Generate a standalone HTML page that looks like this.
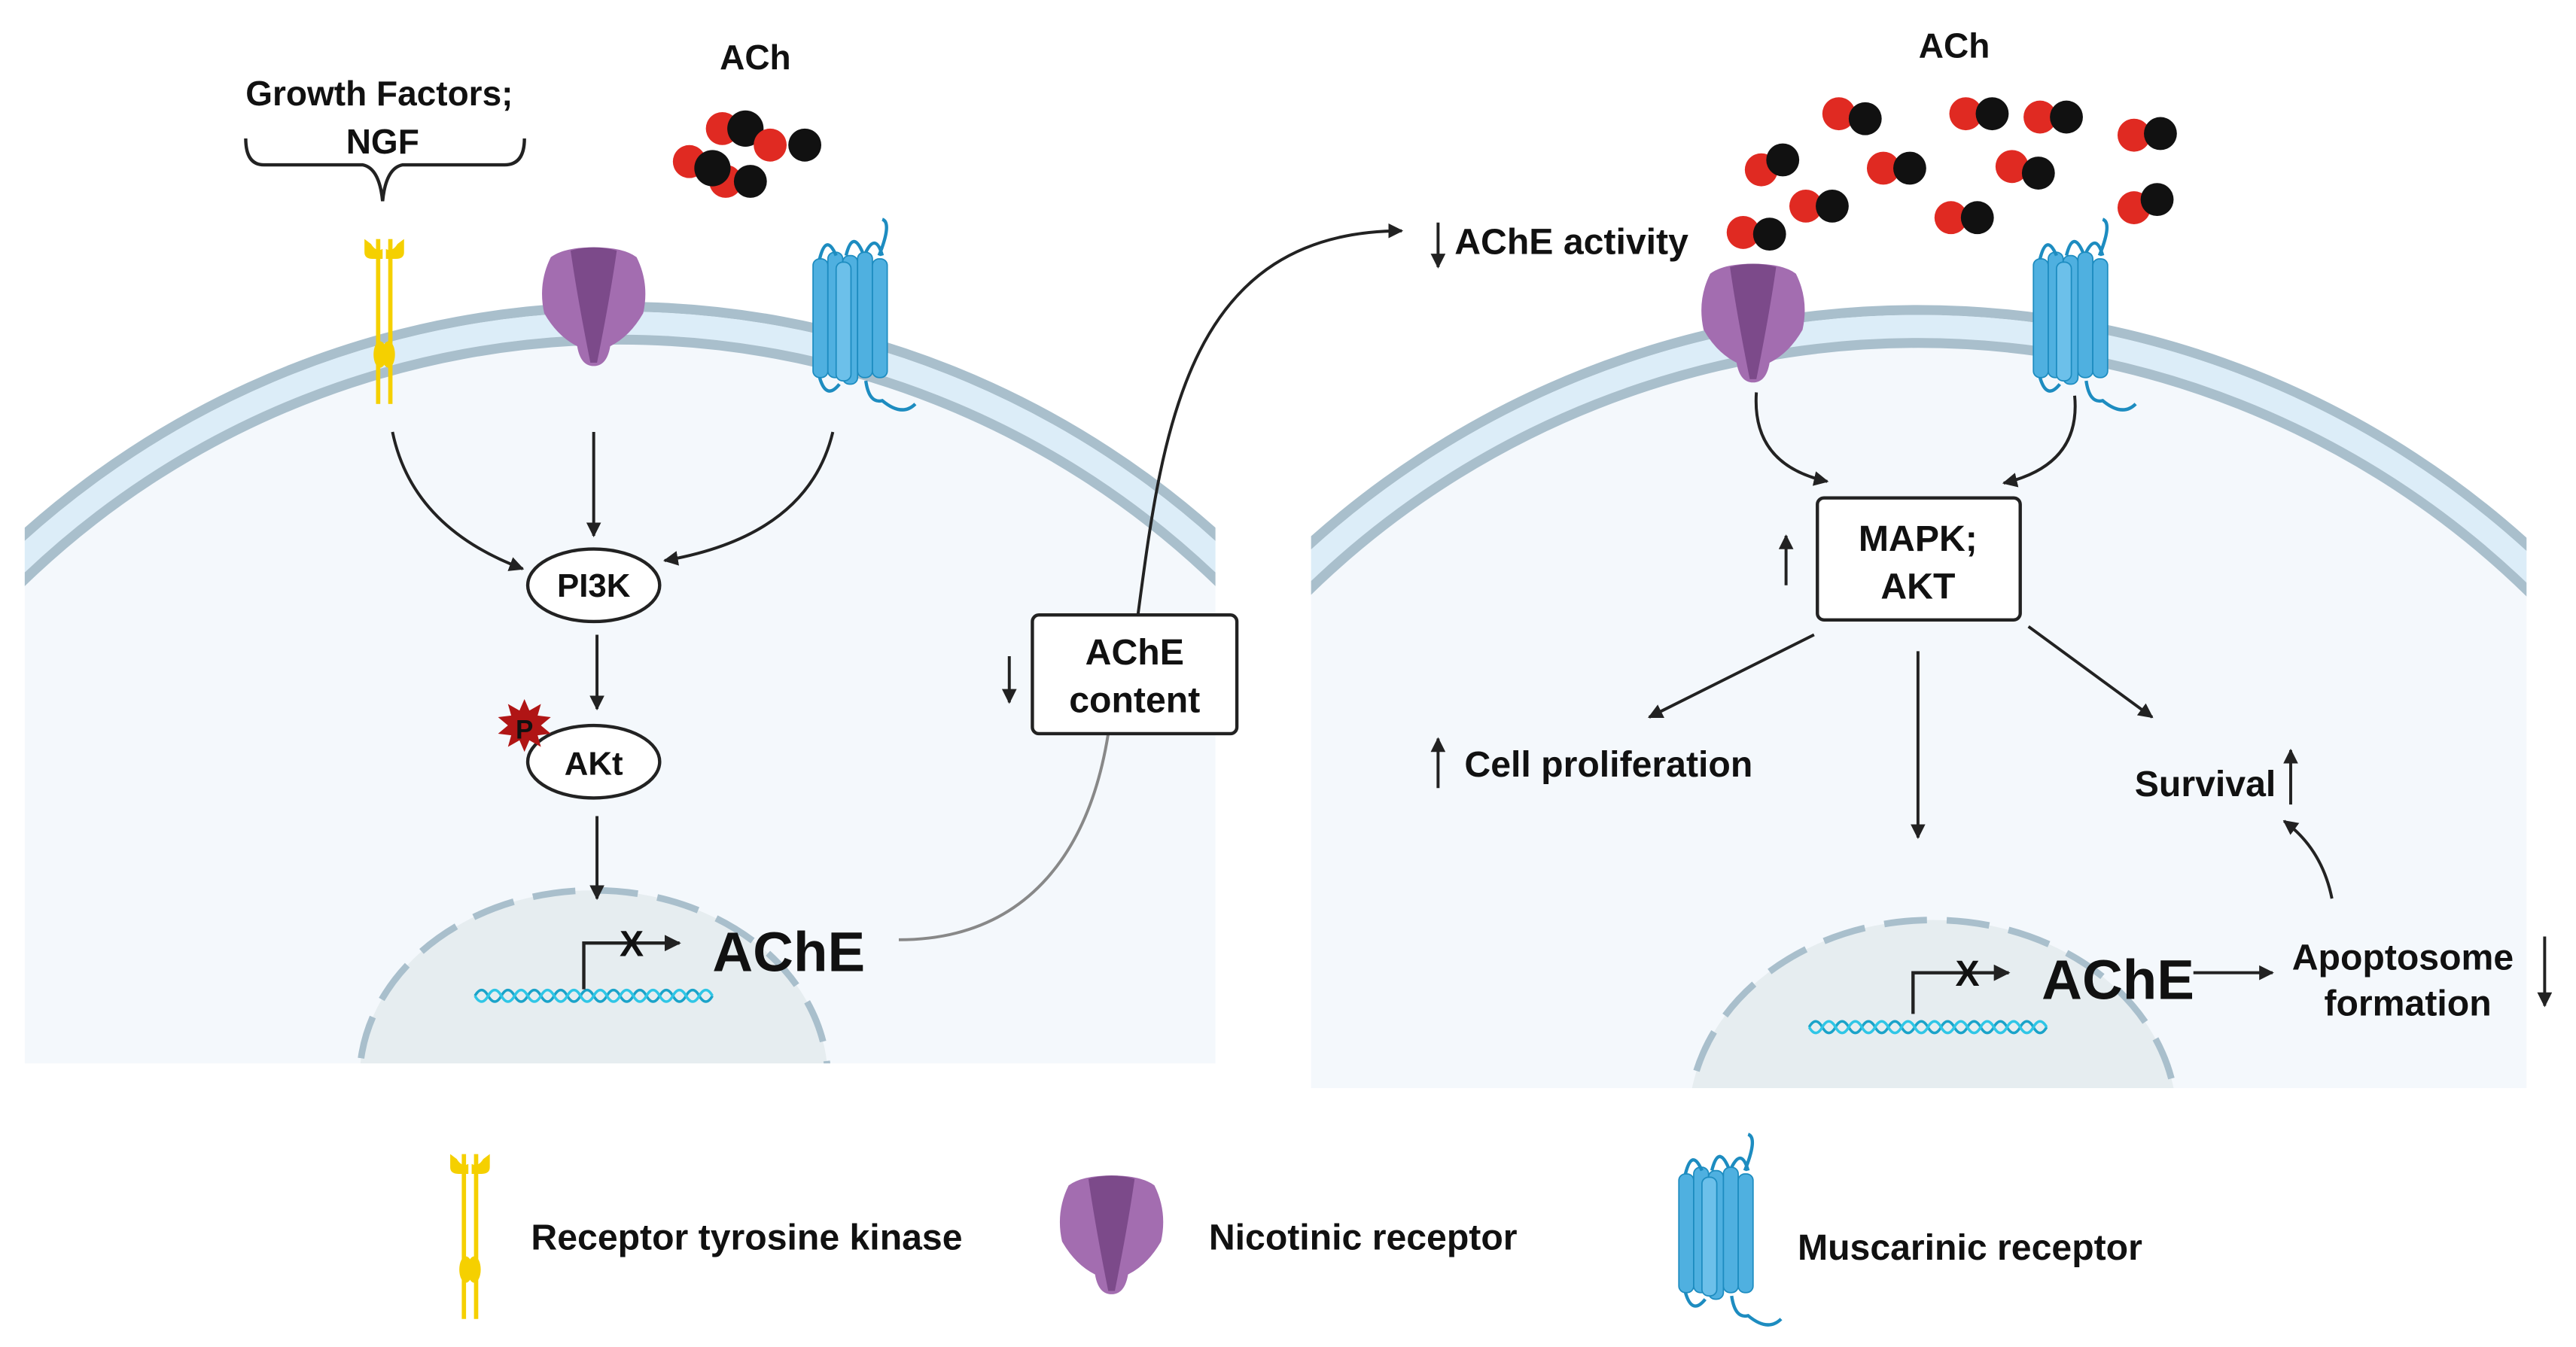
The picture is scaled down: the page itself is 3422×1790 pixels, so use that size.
<!DOCTYPE html>
<html><head><meta charset="utf-8"><style>
html,body{margin:0;padding:0;background:#fff;overflow:hidden;width:3422px;height:1790px}
svg{display:block;overflow:hidden}
text{font-family:"Liberation Sans",sans-serif;font-weight:bold;fill:#111}
</style></head><body>
<svg width="3422" height="1790" viewBox="0 0 1562 817" preserveAspectRatio="none" xmlns="http://www.w3.org/2000/svg">
<defs>
<marker id="ah" viewBox="0 0 10 10" refX="9" refY="5" markerWidth="5" markerHeight="5" orient="auto-start-reverse"><path d="M0,0 L10,5 L0,10 z" fill="#222"/></marker>
<clipPath id="cl"><rect x="15" y="0" width="722" height="645"/></clipPath>
<clipPath id="cr"><rect x="795" y="0" width="737" height="660"/></clipPath>
<g id="rtk">
<rect x="-5" y="0" width="2.6" height="100" fill="#f5d000"/>
<rect x="2.4" y="0" width="2.6" height="100" fill="#f5d000"/>
<path d="M-12,0 L-12,8 Q-12,12 -7,12 L-1,12 L-1,6 Q-5,8 -8,3 Z" fill="#f5d000"/>
<path d="M12,0 L12,8 Q12,12 7,12 L1,12 L1,6 Q5,8 8,3 Z" fill="#f5d000"/>
<ellipse cx="-2.5" cy="70" rx="4" ry="8" fill="#f5d000"/>
<ellipse cx="2.5" cy="70" rx="4" ry="8" fill="#f5d000"/>
</g>
<g id="nic">
<path d="M-26,6 Q-34,22 -30,40 Q-22,54 -10,60 Q-8,72 0,72 Q8,72 10,60 Q22,54 30,40 Q34,22 26,6 Q18,0 0,0 Q-18,0 -26,6 Z" fill="#a36db0"/>
<path d="M-14,2 Q-10,30 -2,70 L2,70 Q10,30 14,2 Q0,-2 -14,2 Z" fill="#7c4a8a"/>
</g>
<g id="mus" fill="#4fb0e0" stroke="#1d8cc0" stroke-width="0.8">
<rect x="-22" y="12" width="9" height="72" rx="4"/>
<rect x="-13" y="8" width="9" height="76" rx="4"/>
<rect x="-4" y="10" width="9" height="78" rx="4"/>
<rect x="5" y="8" width="9" height="76" rx="4"/>
<rect x="14" y="12" width="9" height="72" rx="4"/>
<rect x="-8" y="14" width="9" height="72" rx="4" fill="#6cc0ea"/>
<path d="M-18,12 Q-14,-4 -8,10 M-2,10 Q2,-6 8,8 M10,8 Q16,-4 20,10 M18,10 Q26,-10 20,-12 M-18,84 Q-14,98 -6,88 M10,86 Q12,100 20,98 Q32,108 40,100" fill="none" stroke="#1d8cc0" stroke-width="2"/>
</g>
<g id="dna" fill="none" stroke-width="1.6">
<path d="M0,0 q4,-7 8,0 t8,0 t8,0 t8,0 t8,0 t8,0 t8,0 t8,0 t8,0 t8,0 t8,0 t8,0 t8,0 t8,0 t8,0 t8,0 t8,0 t8,0" stroke="#1aa3c9"/>
<path d="M0,0 q4,7 8,0 t8,0 t8,0 t8,0 t8,0 t8,0 t8,0 t8,0 t8,0 t8,0 t8,0 t8,0 t8,0 t8,0 t8,0 t8,0 t8,0 t8,0" stroke="#2fc6e6"/>
</g>
</defs>

<g clip-path="url(#cl)">
<circle cx="376" cy="727" r="544" fill="#f4f8fc"/>
<circle cx="376" cy="727" r="541" fill="none" stroke="#a9bfcc" stroke-width="6"/>
<circle cx="376" cy="727" r="531" fill="none" stroke="#dcedf8" stroke-width="14"/>
<circle cx="376" cy="727" r="521" fill="none" stroke="#a9bfcc" stroke-width="6"/>
<ellipse cx="360" cy="655" rx="142" ry="115" fill="#e6edf0" stroke="#a9bfcc" stroke-width="4" stroke-dasharray="26,12"/>
</g>
<g clip-path="url(#cr)">
<circle cx="1163" cy="738" r="553" fill="#f4f8fc"/>
<circle cx="1163" cy="738" r="550" fill="none" stroke="#a9bfcc" stroke-width="6"/>
<circle cx="1163" cy="738" r="540" fill="none" stroke="#dcedf8" stroke-width="14"/>
<circle cx="1163" cy="738" r="530" fill="none" stroke="#a9bfcc" stroke-width="6"/>
<ellipse cx="1172" cy="680" rx="148" ry="122" fill="#e6edf0" stroke="#a9bfcc" stroke-width="4" stroke-dasharray="26,12"/>
</g>

<text x="230" y="64" font-size="21" text-anchor="middle">Growth Factors;</text>
<text x="232" y="93" font-size="21" text-anchor="middle">NGF</text>
<path d="M149,84 Q149,100 160,100 L220,100 Q230,102 232,122 Q234,102 244,100 L306,100 Q318,100 318,84" fill="none" stroke="#222" stroke-width="2"/>
<text x="458" y="42" font-size="21" text-anchor="middle">ACh</text>
<g>
<circle cx="438" cy="78" r="10" fill="#e02a22"/><circle cx="452" cy="78" r="11" fill="#111"/>
<circle cx="467" cy="88" r="10" fill="#e02a22"/><circle cx="488" cy="88" r="10" fill="#111"/>
<circle cx="418" cy="98" r="10" fill="#e02a22"/><circle cx="440" cy="110" r="10" fill="#e02a22"/>
<circle cx="432" cy="102" r="11" fill="#111"/><circle cx="455" cy="110" r="10" fill="#111"/>
</g>
<use href="#rtk" x="233" y="145"/>
<use href="#nic" x="360" y="150"/>
<use href="#mus" x="515" y="145"/>

<g fill="none" stroke="#222" stroke-width="1.8" marker-end="url(#ah)">
<path d="M238,262 Q250,320 317,345"/>
<path d="M360,262 L360,325"/>
<path d="M505,262 Q490,325 403,340"/>
<path d="M362,385 L362,430"/>
<path d="M362,495 L362,545"/>
<path d="M690,373 C705,260 720,140 850,140"/>
<path d="M612,398 L612,426"/>
<path d="M872,135 L872,162"/>
</g>
<ellipse cx="360" cy="355" rx="40" ry="22" fill="#fff" stroke="#222" stroke-width="2"/>
<text x="360" y="362" font-size="20" text-anchor="middle">PI3K</text>
<ellipse cx="360" cy="462" rx="40" ry="22" fill="#fff" stroke="#222" stroke-width="2"/>
<text x="360" y="470" font-size="20" text-anchor="middle">AKt</text>
<polygon points="318,424 321,431 328,427 326,434 334,435 328,440 334,445 326,446 328,453 321,449 318,456 315,449 308,453 310,446 302,445 308,440 302,435 310,434 308,427 315,431" fill="#b01515"/>
<text x="318" y="448" font-size="16" text-anchor="middle">P</text>

<use href="#dna" x="288" y="604"/>
<path d="M354,600 L354,572 L412,572" fill="none" stroke="#222" stroke-width="2" marker-end="url(#ah)"/>
<text x="383" y="580" font-size="22" text-anchor="middle">X</text>
<text x="432" y="589" font-size="34">AChE</text>
<path d="M545,570 C620,570 660,520 672,445" fill="none" stroke="#888" stroke-width="1.8"/>
<rect x="626" y="373" width="124" height="72" rx="4" fill="#fff" stroke="#222" stroke-width="2"/>
<text x="688" y="403" font-size="22" text-anchor="middle">AChE</text>
<text x="688" y="432" font-size="22" text-anchor="middle">content</text>
<text x="882" y="154" font-size="22">AChE activity</text>

<text x="1185" y="35" font-size="21" text-anchor="middle">ACh</text>
<g>
<circle cx="1115" cy="69" r="10" fill="#e02a22"/><circle cx="1131" cy="72" r="10" fill="#111"/>
<circle cx="1192" cy="69" r="10" fill="#e02a22"/><circle cx="1208" cy="69" r="10" fill="#111"/>
<circle cx="1237" cy="71" r="10" fill="#e02a22"/><circle cx="1253" cy="71" r="10" fill="#111"/>
<circle cx="1294" cy="82" r="10" fill="#e02a22"/><circle cx="1310" cy="81" r="10" fill="#111"/>
<circle cx="1068" cy="103" r="10" fill="#e02a22"/><circle cx="1081" cy="97" r="10" fill="#111"/>
<circle cx="1142" cy="102" r="10" fill="#e02a22"/><circle cx="1158" cy="102" r="10" fill="#111"/>
<circle cx="1220" cy="101" r="10" fill="#e02a22"/><circle cx="1236" cy="105" r="10" fill="#111"/>
<circle cx="1095" cy="125" r="10" fill="#e02a22"/><circle cx="1111" cy="125" r="10" fill="#111"/>
<circle cx="1294" cy="126" r="10" fill="#e02a22"/><circle cx="1308" cy="121" r="10" fill="#111"/>
<circle cx="1057" cy="141" r="10" fill="#e02a22"/><circle cx="1073" cy="142" r="10" fill="#111"/>
<circle cx="1183" cy="132" r="10" fill="#e02a22"/><circle cx="1199" cy="132" r="10" fill="#111"/>
</g>
<use href="#nic" x="1063" y="160"/>
<use href="#mus" x="1255" y="145"/>
<g fill="none" stroke="#222" stroke-width="1.8" marker-end="url(#ah)">
<path d="M1065,238 Q1062,282 1108,292"/>
<path d="M1258,240 Q1262,282 1215,293"/>
<path d="M1083,355 L1083,325"/>
<path d="M1100,385 L1000,435"/>
<path d="M1163,395 L1163,508"/>
<path d="M1230,380 L1305,435"/>
<path d="M872,478 L872,448"/>
<path d="M1389,488 L1389,455"/>
<path d="M1414,545 Q1408,515 1385,498"/>
<path d="M1330,590 L1378,590"/>
<path d="M1543,568 L1543,610"/>
</g>
<rect x="1102" y="302" width="123" height="74" rx="4" fill="#fff" stroke="#222" stroke-width="2"/>
<text x="1163" y="334" font-size="22" text-anchor="middle">MAPK;</text>
<text x="1163" y="363" font-size="22" text-anchor="middle">AKT</text>
<text x="888" y="471" font-size="22">Cell proliferation</text>
<text x="1380" y="483" font-size="22" text-anchor="end">Survival</text>
<use href="#dna" x="1097" y="623"/>
<path d="M1160,615 L1160,590 L1218,590" fill="none" stroke="#222" stroke-width="2" marker-end="url(#ah)"/>
<text x="1193" y="598" font-size="22" text-anchor="middle">X</text>
<text x="1238" y="606" font-size="34">AChE</text>
<text x="1457" y="588" font-size="22" text-anchor="middle">Apoptosome</text>
<text x="1460" y="616" font-size="22" text-anchor="middle">formation</text>

<use href="#rtk" x="285" y="700"/>
<text x="322" y="758" font-size="22">Receptor tyrosine kinase</text>
<use href="#nic" x="674" y="713"/>
<text x="733" y="758" font-size="22">Nicotinic receptor</text>
<use href="#mus" x="1040" y="700"/>
<text x="1090" y="764" font-size="22">Muscarinic receptor</text>
</svg>
</body></html>
